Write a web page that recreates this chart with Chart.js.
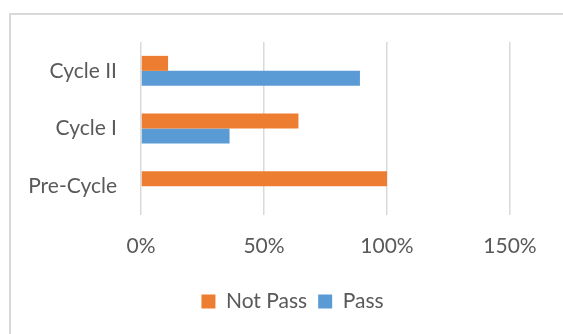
<!DOCTYPE html>
<html>
<head>
<meta charset="utf-8">
<script src="https://cdn.jsdelivr.net/npm/chart.js@4"></script>
<style>
    html, body { margin: 0; padding: 0; background: #fff; overflow: hidden; }
    #wrap { position: relative; width: 563px; height: 334px; overflow: hidden; }
    #frame { position: absolute; left: 9px; top: 13px; width: 620px; height: 400px; border: 2px solid #d9d9d9; }
    #chart { position: absolute; left: 0; top: 0; }
</style>
</head>
<body>
<div id="wrap">
    <div id="frame"></div>
    <canvas id="chart" width="563" height="334"></canvas>
</div>
<script>
// values (percent)
const categories = ['Cycle II', 'Cycle I', 'Pre-Cycle'];
const notPassValues = [11, 64, 100];
const passValues = [89, 36, 0];
const xTicks = [0, 50, 100, 150];

const textColor = '#595959';
const fontFamily = 'Lato, "Open Sans", sans-serif';

// Excel centres the legend a bit right of the canvas middle
const legendShift = {
    id: 'legendShift',
    afterLayout(chart) {
        chart.legend.left += 27.5;
        chart.legend.right += 27.5;
    }
};

document.addEventListener('DOMContentLoaded', () => {
    const ctx = document.getElementById('chart').getContext('2d');

    new Chart(ctx, {
        type: 'bar',
        data: {
            labels: categories,
            datasets: [{
                label: 'Not Pass',
                data: notPassValues,
                backgroundColor: '#ED7D31',
                borderWidth: 0
            }, {
                label: 'Pass',
                data: passValues,
                backgroundColor: '#5B9BD5',
                borderWidth: 0
            }]
        },
        plugins: [legendShift],
        options: {
            indexAxis: 'y',
            responsive: false,
            animation: false,
            devicePixelRatio: 1,
            categoryPercentage: 0.52,
            barPercentage: 1,
            layout: {
                padding: { left: 20, right: 53, top: 42, bottom: 12 }
            },
            plugins: {
                tooltip: { enabled: false },
                legend: {
                    position: 'bottom',
                    labels: {
                        boxWidth: 14,
                        boxHeight: 14,
                        padding: 11,
                        color: textColor,
                        font: { family: fontFamily, size: 21 }
                    }
                }
            },
            scales: {
                x: {
                    min: xTicks[0],
                    max: xTicks[xTicks.length - 1],
                    afterBuildTicks: (scale) => {
                        scale.ticks = xTicks.map(v => ({ value: v }));
                    },
                    afterFit: (scale) => { scale.height = 65; },
                    grid: { color: '#d9d9d9', lineWidth: 1.5, drawTicks: false },
                    border: { display: false },
                    ticks: {
                        padding: 19,
                        color: textColor,
                        font: { family: fontFamily, size: 21 },
                        callback: (v) => v + '%'
                    }
                },
                y: {
                    afterFit: (scale) => { scale.width = 121; },
                    grid: { display: false, drawTicks: false },
                    border: { display: false },
                    ticks: {
                        padding: 24,
                        color: textColor,
                        font: { family: fontFamily, size: 21 }
                    }
                }
            }
        }
    });
});
</script>
</body>
</html>
